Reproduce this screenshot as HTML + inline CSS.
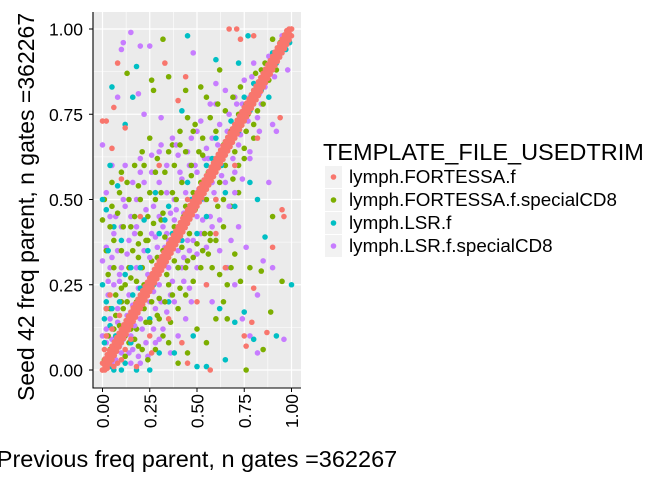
<!DOCTYPE html>
<html><head><meta charset="utf-8"><style>
body{margin:0;background:#fff;}
svg text{font-family:"Liberation Sans",sans-serif;}
</style></head><body>
<svg id="chart" width="672" height="480" xmlns="http://www.w3.org/2000/svg">
<rect x="93" y="12" width="208" height="376" fill="#ebebeb"/>
<g id="grid"></g><g id="pts"></g><g id="axes"></g>
<text transform="translate(34,401) rotate(-90)" text-anchor="start" font-size="23" fill="#000">Seed 42 freq parent, n gates =362267</text>
<text x="197" y="467" text-anchor="middle" font-size="23.5" fill="#000">Previous freq parent, n gates =362267</text>
<g>
<text x="323" y="160" font-size="23.5" fill="#000">TEMPLATE_FILE_USEDTRIM</text>
<g id="legend"></g>
</g>
</svg>
<script>
const NS="http://www.w3.org/2000/svg";
const xTicks=[0,0.25,0.5,0.75,1];
const yTicks=[0,0.25,0.5,0.75,1];
const xTickLabels=["0.00","0.25","0.50","0.75","1.00"];
const yTickLabels=["0.00","0.25","0.50","0.75","1.00"];
const seriesNames=["lymph.FORTESSA.f","lymph.FORTESSA.f.specialCD8","lymph.LSR.f","lymph.LSR.f.specialCD8"];
const seriesColors=["#F8766D","#7CAE00","#00BFC4","#C77CFF"];
const lsrCD8=[[.15,.99],[.11,.96],[.1,.94],[.2,.95],[.25,.95],[.48,.93],[.08,.8],[.19,.81],[.22,.75],[.31,.74],[.37,.68],[.3,.64],[.2,.62],[.12,.6],[.05,.6],[0,.66],[.4,.63],[.45,.64],[.5,.7],[.55,.65],[.6,.78],[.65,.82],[.7,.8],[.75,.85],[.8,.9],[.87,.88],[.95,.98],[.98,.88],[.9,.72],[.82,.74],[.78,.62],[.7,.58],[.65,.55],[.6,.5],[.57,.45],[.52,.4],[.45,.38],[.4,.35],[.35,.3],[.3,.25],[.25,.2],[.2,.15],[.15,.1],[.1,.05],[.05,.02],[.02,.08],[.04,.15],[.06,.25],[.08,.35],[.1,.42],[.12,.48],[.15,.45],[.18,.5],[.22,.55],[.26,.58],[.3,.55],[.34,.52],[.38,.5],[.42,.56],[.46,.6],[.5,.58],[.54,.62],[.58,.68],[.62,.72],[.66,.7],[.72,.66],[.76,.7],[.84,.78],[.9,.3],[.96,.09],[.85,.32],[.82,.05],[.78,.1],[.74,.15],[.7,.25],[.66,.3],[.62,.35],[.58,.2],[.55,.25],[.5,.3],[.47,.2],[.44,.15],[.4,.1],[.36,.05],[.32,.12],[.28,.08],[.24,.04],[.2,.02],[.16,.06],[.12,.12],[.08,.18],[.04,.3],[.02,.36],[.06,.4],[.1,.3],[.14,.22],[.18,.3],[.22,.35],[.26,.4],[.3,.45],[.34,.4],[.38,.44],[.42,.3],[.46,.35],[.5,.45],[.54,.5],[.58,.55],[.62,.6],[.66,.65],[.7,.72],[.74,.78],[.78,.8],[.68,.38],[.72,.42],[.76,.36],[.82,.22],[.88,.55],[.92,.7],[.14,.38],[.24,.28],[.28,.18],[.36,.22],[0,.32],[0,.1],[.17,.4],[.21,.3],[.27,.48],[.33,.36],[.43,.46],[.13,.2],[.09,.26],[.03,.22]];
const lsrCD8Extra=[[.02,.12],[.03,.04],[.05,.09],[.07,.03],[.08,.14],[.09,.07],[.11,.09],[.13,.16],[.14,.05],[.16,.19],[.17,.13],[.19,.24],[.21,.12],[.22,.21],[.23,.08],[.25,.33],[.27,.23],[.29,.36],[.31,.2],[.32,.42],[.33,.31],[.35,.38],[.37,.26],[.39,.47],[.41,.4],[.43,.33],[.44,.52],[.46,.45],[.48,.38],[.49,.6],[.51,.53],[.53,.44],[.56,.62],[.59,.52],[.61,.66],[.63,.57],[.67,.75],[.69,.62],[.71,.78],[.73,.69],[.77,.73],[.79,.86],[.83,.81],[.86,.83],[.88,.92],[.91,.86],[.93,.94],[.03,.26],[.05,.33],[.07,.45],[.09,.28],[.11,.5],[.13,.34],[.16,.55],[.18,.42],[.2,.58],[.23,.47],[.26,.63],[.28,.39],[.31,.66],[.34,.6],[.36,.46],[.39,.66],[.41,.58],[.47,.68],[.52,.73],[.57,.78],[.6,.84],[.15,.02],[.19,.04],[.27,.12],[.3,.09],[.34,.17],[.38,.2],[.43,.26],[.46,.24],[.5,.34],[.55,.36],[.58,.42],[.62,.44],[.67,.48],[.7,.52],[.74,.56],[.78,.64],[.83,.7],[.02,.52],[.04,.45]];
const fortessaCD8=[[.32,.97],[.13,.87],[.26,.85],[.27,.82],[.35,.86],[.44,.82],[.52,.83],[.55,.8],[.62,.88],[.9,.97],[.88,.85],[.85,.78],[.8,.68],[.75,.62],[.72,.52],[.68,.48],[.64,.42],[.6,.38],[.56,.34],[.52,.3],[.48,.26],[.44,.22],[.4,.18],[.36,.14],[.32,.1],[.28,.06],[.24,.03],[.19,.07],[.15,.12],[.11,.18],[.07,.22],[.03,.28],[0,.44],[.01,.5],[.05,.48],[.09,.52],[.13,.55],[.17,.6],[.21,.64],[.25,.68],[.29,.62],[.33,.58],[.37,.66],[.41,.7],[.45,.74],[.49,.72],[.53,.68],[.57,.74],[.61,.78],[.65,.76],[.69,.8],[.73,.83],[.77,.75],[.81,.87],[.86,.9],[.9,.45],[.95,.26],[.89,.17],[.85,.06],[.76,0],[.73,.26],[.68,.3],[.64,.2],[.6,.15],[.55,.08],[.5,.12],[.45,.05],[.4,.02],[.35,.08],[.3,.15],[.26,.2],[.22,.25],[.18,.2],[.14,.3],[.1,.35],[.06,.38],[.02,.18],[.04,.06],[.08,.1],[.12,.25],[.16,.35],[.2,.4],[.24,.45],[.28,.5],[.32,.35],[.36,.38],[.4,.42],[.44,.48],[.48,.52],[.52,.55],[.56,.58],[.6,.62],[.64,.66],[.68,.7],[.72,.75],[.76,.78],[.8,.82],[.84,.29],[.78,.3],[.7,.34],[.66,.25],[.62,.28],[.58,.3],[.54,.4],[.46,.4],[.42,.36],[.38,.32],[.34,.28],[.3,.3],[.26,.32],[.22,.18],[.18,.12],[.14,.08],[.1,.2],[.06,.12],[.2,.5],[.15,.42],[.1,.58],[.05,.55],[.66,.15],[.19,.33],[.23,.38],[.31,.44],[.39,.5],[.47,.57]];
const fortessaCD8Extra=[[.01,.03],[.03,.1],[.04,.18],[.06,.06],[.07,.16],[.09,.13],[.1,.24],[.12,.1],[.13,.2],[.15,.27],[.16,.15],[.18,.26],[.19,.37],[.21,.3],[.23,.14],[.24,.38],[.26,.27],[.27,.43],[.29,.33],[.3,.21],[.32,.46],[.33,.39],[.35,.25],[.37,.52],[.38,.42],[.4,.3],[.42,.55],[.43,.45],[.45,.32],[.47,.6],[.49,.47],[.5,.37],[.53,.63],[.55,.5],[.57,.4],[.6,.7],[.62,.55],[.65,.6],[.67,.68],[.7,.64],[.73,.72],[.76,.7],[.79,.78],[.82,.76],[.84,.88],[.87,.86],[.9,.9],[.92,.88],[.94,.96],[.02,.35],[.04,.42],[.06,.3],[.08,.46],[.11,.42],[.14,.5],[.17,.45],[.19,.54],[.22,.6],[.25,.52],[.28,.58],[.31,.52],[.35,.64],[.38,.6],[.41,.66],[.44,.64],[.48,.7],[.51,.64],[.12,.04],[.17,.09],[.21,.06],[.25,.14],[.29,.16],[.33,.2],[.37,.22],[.41,.24],[.44,.3],[.48,.33],[.53,.35],[.57,.38],[.61,.48],[.64,.5],[.69,.56],[.72,.6],[.75,.65],[.8,.72]];
const lsr=[[.45,.98],[.77,.98],[.18,.89],[.05,.83],[.12,.72],[.16,.8],[.42,.76],[.6,.91],[.72,.9],[.85,.85],[.94,.95],[0,.5],[.02,.47],[.04,.6],[.08,.54],[0,.25],[.02,.2],[.04,.13],[.1,.11],[.15,.08],[.3,.05],[.5,.01],[.55,.01],[.65,.03],[.62,.18],[.7,.14],[.75,.17],[.8,.09],[.92,.1],[1,.25],[.86,.39],[.82,.5],[.78,.55],[.7,.48],[.65,.52],[.55,.45],[.5,.4],[.4,.3],[.35,.2],[.25,.15],[.2,.24],[.15,.3],[.1,.38],[.06,.42],[.3,.4],[.35,.48],[.45,.55],[.55,.6],[.6,.68],[.68,.73],[.75,.8],[.8,.84],[.9,.93],[.96,.97],[.28,.52],[.22,.44],[.48,.1],[.38,.05],[.12,.02],[.06,0]];
const lsrExtra=[[.01,.08],[.01,.15],[.03,.35],[.05,.18],[.07,.1],[.09,.2],[.12,.28],[.16,.22],[.2,.3],[.24,.35],[.27,.25],[.33,.44],[.37,.4],[.42,.38],[.47,.5],[.52,.5],[.58,.62],[.63,.6],[.72,.7],[.78,.76],[.84,.82],[.88,.8],[.92,.9],[.97,.94],[.99,.96],[.02,.02],[.04,.01],[.1,0],[.18,0],[.25,0]];
const fortessaScatter=[[.67,1],[.71,1],[.73,.97],[.8,.98],[.08,.9],[.33,.9],[.44,.86],[.4,.79],[.06,.77],[0,.73],[.02,.73],[.12,.71],[.82,.68],[.94,.74],[.95,.47],[.96,.45],[.9,.36],[.8,.24],[.79,.14],[.76,.07],[.75,.1],[.87,.11],[.57,0],[.45,.02],[.42,.08],[.26,.05],[.18,.01],[.04,.22],[.02,.18],[.05,.65],[.1,.56],[.2,.45],[.3,.6],[.6,.4],[.65,.3],[.55,.25],[.5,.2],[.35,.15],[.25,.1],[.1,.03],[.7,.6],[.6,.5],[.45,.5],[.03,.02],[.06,.01],[.01,.06],[.02,.1],[.08,.02],[.12,.06],[.05,.12],[.15,.09],[.09,.16]];
const fortessaBandX=[0,.0125,.025,.0375,.05,.0625,.075,.0875,.1,.1125,.125,.1375,.15,.1625,.175,.1875,.2,.2125,.225,.2375,.25,.2625,.275,.2875,.3,.3125,.325,.3375,.35,.3625,.375,.3875,.4,.4125,.425,.4375,.45,.4625,.475,.4875,.5,.5125,.525,.5375,.55,.5625,.575,.5875,.6,.6125,.625,.6375,.65,.6625,.675,.6875,.7,.7125,.725,.7375,.75,.7625,.775,.7875,.8,.8125,.825,.8375,.85,.8625,.875,.8875,.9,.9125,.925,.9375,.95,.9625,.975,.9875,1];
const fortessaBandY=[0,.0125,.025,.0375,.05,.0625,.075,.0875,.1,.1125,.125,.1375,.15,.1625,.175,.1875,.2,.2125,.225,.2375,.25,.2625,.275,.2875,.3,.3125,.325,.3375,.35,.3625,.375,.3875,.4,.4125,.425,.4375,.45,.4625,.475,.4875,.5,.5125,.525,.5375,.55,.5625,.575,.5875,.6,.6125,.625,.6375,.65,.6625,.675,.6875,.7,.7125,.725,.7375,.75,.7625,.775,.7875,.8,.8125,.825,.8375,.85,.8625,.875,.8875,.9,.9125,.925,.9375,.95,.9625,.975,.9875,1];
const fortessaBandSpread=[-0.02,0,0.02];

const X0=102.5,X1=291.5,Y0=370,Y1=29;
const xs=v=>X0+v*(X1-X0), ys=v=>Y0-v*(Y0-Y1);
const grid=document.getElementById('grid');
function line(p,x1,y1,x2,y2,c,w,name){const l=document.createElementNS(NS,'line');l.setAttribute('x1',x1);l.setAttribute('y1',y1);l.setAttribute('x2',x2);l.setAttribute('y2',y2);l.setAttribute('stroke',c);l.setAttribute('stroke-width',w);


p.appendChild(l);}
for(let i=0;i<xTicks.length;i++){
  if(i<xTicks.length-1){const m=(xTicks[i]+xTicks[i+1])/2;line(grid,xs(m),12,xs(m),388,'#fff',0.6,'x-minor-gridline');}
  line(grid,xs(xTicks[i]),12,xs(xTicks[i]),388,'#fff',1.2,'x-gridline');
}
for(let i=0;i<yTicks.length;i++){
  if(i<yTicks.length-1){const m=(yTicks[i]+yTicks[i+1])/2;line(grid,93,ys(m),301,ys(m),'#fff',0.6,'y-minor-gridline');}
  line(grid,93,ys(yTicks[i]),301,ys(yTicks[i]),'#fff',1.2,'y-gridline');
}
const pts=document.getElementById('pts');
function dot(x,y,c,name){y=Math.max(0,Math.min(1,y));const e=document.createElementNS(NS,'circle');e.setAttribute('cx',xs(x));e.setAttribute('cy',ys(y));e.setAttribute('r',2.8);e.setAttribute('fill',c);


pts.appendChild(e);}
lsrCD8.forEach(p=>dot(p[0],p[1],seriesColors[3],'point-lsr-specialcd8'));
fortessaCD8.forEach(p=>dot(p[0],p[1],seriesColors[1],'point-fortessa-specialcd8'));
lsrCD8Extra.forEach(p=>dot(p[0],p[1],seriesColors[3],'point-lsr-specialcd8'));
lsr.forEach(p=>dot(p[0],p[1],seriesColors[2],'point-lsr'));
fortessaCD8Extra.forEach(p=>dot(p[0],p[1],seriesColors[1],'point-fortessa-specialcd8'));
lsrExtra.forEach(p=>dot(p[0],p[1],seriesColors[2],'point-lsr'));
fortessaScatter.forEach(p=>dot(p[0],p[1],seriesColors[0],'point-fortessa'));
fortessaBandSpread.forEach(s=>fortessaBandX.forEach((x,i)=>dot(x,fortessaBandY[i]+s,seriesColors[0],'point-fortessa')));
const ax=document.getElementById('axes');
line(ax,93,12,93,388.5,'#000',1.1,'y-axis-line');
line(ax,92.5,388,301,388,'#000',1.1,'x-axis-line');
function txt(p,s,x,y,anchor,size,tr,name){const t=document.createElementNS(NS,'text');t.textContent=s;t.setAttribute('x',x);t.setAttribute('y',y);t.setAttribute('text-anchor',anchor);t.setAttribute('font-size',size);t.setAttribute('fill','#000');if(tr)t.setAttribute('transform',tr);


p.appendChild(t);}
xTicks.forEach((v,i)=>{const x=xs(v);line(ax,x,388,x,392,'#000',1,'x-tick');txt(ax,xTickLabels[i],0,0,'end',17.5,`translate(${x+6.5},394) rotate(-90)`,'x-tick-label');});
yTicks.forEach((v,i)=>{const y=ys(v);line(ax,89,y,93,y,'#000',1,'y-tick');txt(ax,yTickLabels[i],83,y+6.5,'end',17.5,null,'y-tick-label');});
const lg=document.getElementById('legend');
seriesNames.forEach((n,i)=>{const cy=177+i*23;
 const r=document.createElementNS(NS,'rect');r.setAttribute('x',325);r.setAttribute('y',cy-11);r.setAttribute('width',17);r.setAttribute('height',22);r.setAttribute('fill','#f2f2f2');
 
 
 lg.appendChild(r);
 const c=document.createElementNS(NS,'circle');c.setAttribute('cx',333.5);c.setAttribute('cy',cy);c.setAttribute('r',2.8);c.setAttribute('fill',seriesColors[i]);
 
 
 lg.appendChild(c);
 txt(lg,n,349,cy+6,'start',18.8,null,'legend-entry');});
</script>
</body></html>
